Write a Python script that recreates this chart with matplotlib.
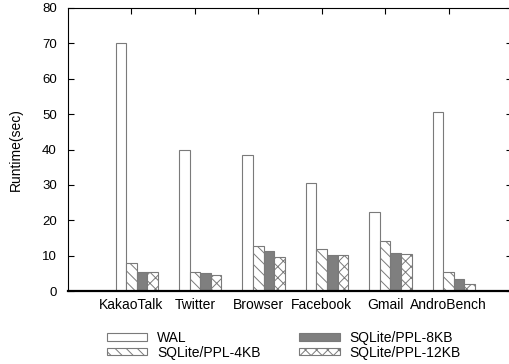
import matplotlib
matplotlib.use("Agg")
import matplotlib.pyplot as plt
import numpy as np

categories = ["KakaoTalk", "Twitter", "Browser", "Facebook", "Gmail", "AndroBench"]
series_names = ["WAL", "SQLite/PPL-4KB", "SQLite/PPL-8KB", "SQLite/PPL-12KB"]
wal = [70.2, 39.8, 38.4, 30.4, 22.2, 50.6]
ppl_4kb = [8.0, 5.4, 12.7, 11.8, 14.2, 5.4]
ppl_8kb = [5.5, 5.0, 11.4, 10.2, 10.8, 3.5]
ppl_12kb = [5.4, 4.4, 9.5, 10.1, 10.6, 2.0]
yticks = [0, 10, 20, 30, 40, 50, 60, 70, 80]

plt.rcParams['font.family'] = ['Liberation Sans', 'DejaVu Sans']
plt.rcParams['hatch.linewidth'] = 0.7

W, H = 510, 364
fig = plt.figure(figsize=(W / 100, H / 100), dpi=100)
ax = fig.add_axes([68 / W, 1 - 291 / H, (512 - 68) / W, (291 - 8) / H])

gray = '#7a7a7a'
styles = [
    dict(facecolor='white', edgecolor=gray, hatch=None),
    dict(facecolor='white', edgecolor=gray, hatch='\\\\\\'),
    dict(facecolor='#7f7f7f', edgecolor=gray, hatch=None),
    dict(facecolor='white', edgecolor=gray, hatch='xxx'),
]
series = [wal, ppl_4kb, ppl_8kb, ppl_12kb]
x = np.arange(len(categories))
bw = 1 / 6
for j, (vals, st, name) in enumerate(zip(series, styles, series_names)):
    ax.bar(x + (j - 1) * bw, vals, width=bw, linewidth=0.8, label=name, **st)

ax.set_xlim(-1, 6)
ax.set_ylim(0, 80)
ax.set_yticks(yticks)
ax.set_xticks(x)
ax.set_xticklabels(categories, fontsize=10)
ax.tick_params(axis='y', direction='in', length=4.5, width=0.8, right=True,
               labelsize=9.5, pad=8)
ax.tick_params(axis='x', direction='in', length=4.5, width=0.8, top=True,
               bottom=True, labelsize=10, pad=5)
for t in ax.xaxis.get_major_ticks():
    t.tick1line.set_visible(False)
for s in ['left', 'top', 'right']:
    ax.spines[s].set_linewidth(0.8)
ax.spines['bottom'].set_linewidth(1.6)
ax.set_ylabel('Runtime(sec)', fontsize=10, labelpad=14)

leg = ax.legend(ncol=2, frameon=False, fontsize=10,
                loc='upper left', bbox_to_anchor=(107 / W, 1 - 331 / H),
                bbox_transform=fig.transFigure, borderpad=0, borderaxespad=0,
                handlelength=2.9, handleheight=0.45, handletextpad=0.7,
                columnspacing=2.8, labelspacing=0.05)

fig.savefig('out.png', dpi=100)
